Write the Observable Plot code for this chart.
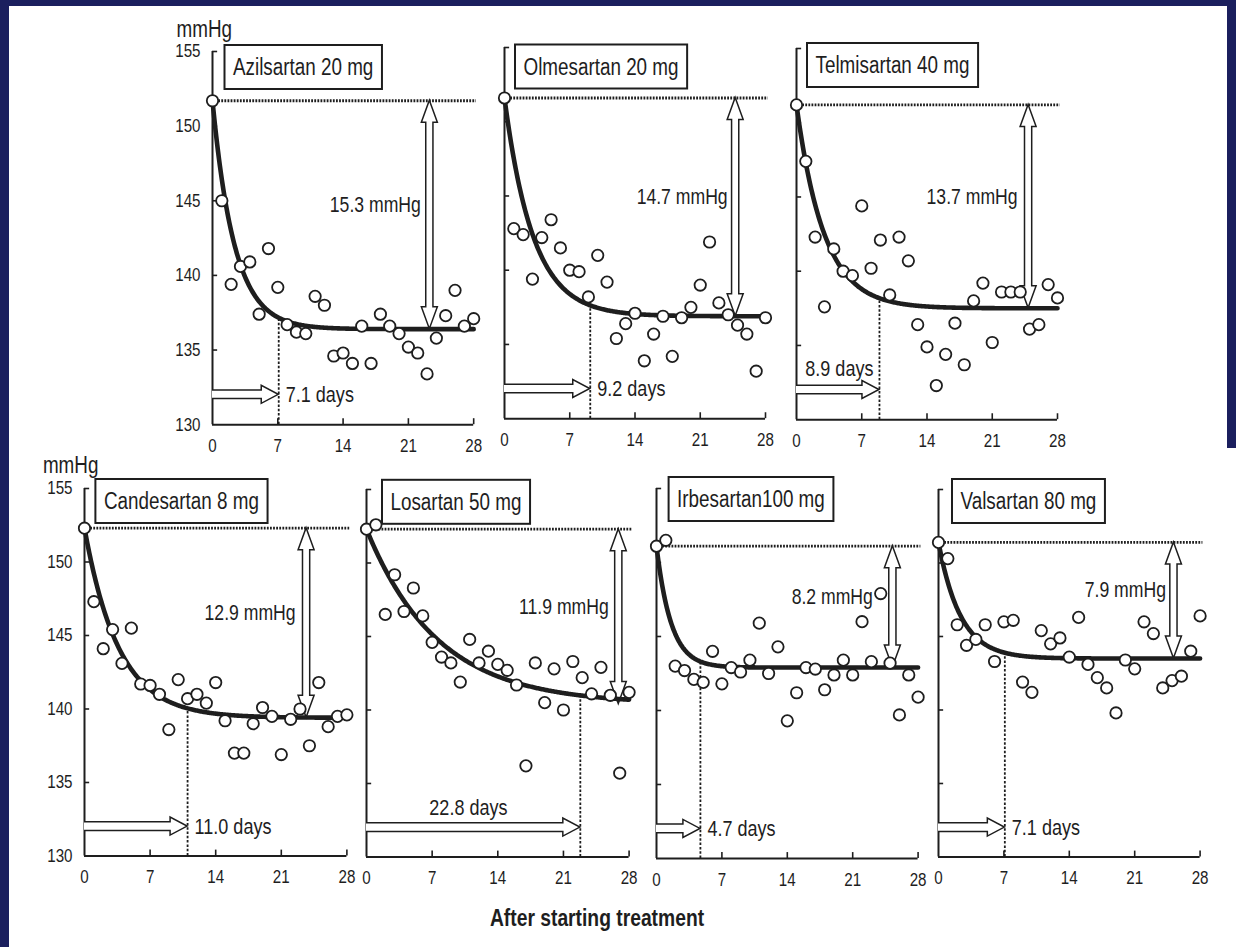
<!DOCTYPE html>
<html>
<head>
<meta charset="utf-8">
<script src="https://cdn.jsdelivr.net/npm/d3@7"></script>
<script src="https://cdn.jsdelivr.net/npm/@observablehq/plot@0.6"></script>
<style>
  html, body { margin: 0; padding: 0; background: #ffffff; }
  #figure { position: relative; width: 1236px; height: 947px; background: #ffffff; overflow: hidden; }
  .band { position: absolute; background: #1b1f5e; }
  #xtitle { position: absolute; white-space: nowrap; color: #1e1e1e; }
</style>
</head>
<body>
<div id="figure">
  <div class="band" style="left:0;top:0;width:1236px;height:6px"></div>
  <div class="band" style="left:0;top:0;width:9px;height:947px"></div>
  <div class="band" style="left:1227px;top:0;width:9px;height:448px"></div>
  <div id="xtitle">After starting treatment</div>
</div>
<script>
// Office systolic blood pressure (mmHg) by day after starting each ARB
const drugs = ["Azilsartan 20 mg", "Olmesartan 20 mg", "Telmisartan 40 mg",
               "Candesartan 8 mg", "Losartan 50 mg", "Irbesartan100 mg", "Valsartan 80 mg"];
const days = [0, 1, 2, 3, 4, 5, 6, 7, 8, 9, 10, 11, 12, 13, 14, 15, 16, 17, 18, 19, 20,
              21, 22, 23, 24, 25, 26, 27, 28];

const azilsartan  = [151.7, 145.0, 139.4, 140.6, 140.9, 137.4, 141.8, 139.2, 136.7, 136.2, 136.1, 138.6, 138.0, 134.6, 134.8,
                     134.1, 136.6, 134.1, 137.4, 136.6, 136.1, 135.2, 134.8, 133.4, 135.8, 137.3, 139.0, 136.6, 137.1];
const olmesartan  = [151.6, 142.8, 142.4, 139.4, 142.2, 143.4, 141.5, 140.0, 139.9, 138.2, 141.0, 139.2, 135.4, 136.4, 137.1,
                     133.9, 135.7, 136.9, 134.2, 136.8, 137.5, 139.0, 141.9, 137.8, 137.0, 136.3, 135.7, 133.2, 136.8];
const telmisartan = [151.2, 147.4, 142.3, 137.6, 141.5, 140.0, 139.7, 144.4, 140.2, 142.1, 138.4, 142.3, 140.7, 136.4, 134.9,
                     132.3, 134.4, 136.5, 133.7, 138.0, 139.2, 135.2, 138.6, 138.6, 138.6, 136.1, 136.4, 139.1, 138.2];
const candesartan = [152.3, 147.3, 144.1, 145.4, 143.1, 145.5, 141.7, 141.6, 141.0, 138.6, 142.0, 140.7, 141.0, 140.4, 141.8,
                     139.2, 137.0, 137.0, 139.0, 140.1, 139.5, 136.9, 139.3, 140.0, 137.5, 141.8, 138.8, 139.5, 139.6];
const losartan    = [152.3, 152.6, 146.5, 149.2, 146.7, 148.3, 146.4, 144.6, 143.6, 143.2, 141.9, 144.8, 143.2, 144.0, 143.1,
                     142.7, 141.7, 136.2, 143.2, 140.5, 142.8, 140.0, 143.3, 142.2, 141.1, 142.9, 141.0, 135.7, 141.2];
const irbesartan  = [151.1, 151.5, 143.0, 142.7, 142.1, 141.9, 144.0, 141.8, 142.9, 142.6, 143.4, 145.9, 142.5, 144.3, 139.3,
                     141.2, 142.9, 142.8, 141.4, 142.4, 143.4, 142.4, 146.0, 143.3, 147.9, 143.2, 139.7, 142.4, 140.9];
const valsartan   = [151.4, 150.3, 145.8, 144.4, 144.8, 145.8, 143.3, 146.0, 146.1, 141.9, 141.2, 145.4, 144.5, 144.9, 143.6,
                     146.3, 143.1, 142.2, 141.5, 139.8, 143.4, 142.8, 146.0, 145.2, 141.5, 142.0, 142.3, 144.0, 146.4];
const series = [azilsartan, olmesartan, telmisartan, candesartan, losartan, irbesartan, valsartan];

// Fitted exponential decay: baseline, maximal reduction (mmHg), days to reach the plateau
const baselines = [151.7, 151.6, 151.2, 152.3, 152.3, 151.1, 151.4];
const reductions = [15.3, 14.7, 13.7, 12.9, 11.9, 8.2, 7.9];
const plateauDays = [7.1, 9.2, 8.9, 11.0, 22.8, 4.7, 7.1];

const xTicks = [0, 7, 14, 21, 28];
const yTicks = [130, 135, 140, 145, 150, 155];

// Panel placement on the page (px) and annotation placement
const layout = [
  {left: 211.5, top: 50.8, w: 261.2, h: 373.2, yAxis: true, unitDx: -36, unitDy: -31, arrowDay: 23.3, dropDx: -9,  dayLabel: "right",       boxDx: 12.5, boxDy: -6},
  {left: 504.0, top: 46.8, w: 261.0, h: 371.2, arrowDay: 24.8, dropDx: -8,  dayLabel: "right",       boxDx: 11,   boxDy: -2.5},
  {left: 795.7, top: 48.3, w: 261.0, h: 371.2, arrowDay: 24.9, dropDx: -11, dayLabel: "aboveLeft",   boxDx: 11,   boxDy: -5},
  {left: 84.3,  top: 488.2, w: 262.4, h: 367.5, yAxis: true, unitDx: -41.6, unitDy: -32, arrowDay: 23.7, dropDx: -11, dayLabel: "right", boxDx: 11.4, boxDy: -9},
  {left: 365.7, top: 488.5, w: 262.6, h: 367.5, arrowDay: 26.9, dropDx: -10, dayLabel: "aboveCenter", boxDx: 16,   boxDy: -9.2},
  {left: 655.7, top: 488.3, w: 261.6, h: 370.0, arrowDay: 25.3, dropDx: -20, dayLabel: "right",       boxDx: 12.6, boxDy: -11},
  {left: 937.7, top: 489.2, w: 261.6, h: 367.5, arrowDay: 25.2, dropDx: -8,  dayLabel: "right",       boxDx: 14,   boxDy: -10}
];

const INK = "#1e1e1e";
const M = {top: 45, right: 22, bottom: 42, left: 50};
const SVGNS = "http://www.w3.org/2000/svg";

// Use a condensed face when installed; otherwise squeeze a regular face horizontally
const measureCtx = document.createElement("canvas").getContext("2d");
function fontAvailable(name) {
  const probe = "Azilsartan 20 mg mmHg 0123";
  measureCtx.font = "40px monospace";
  const a = measureCtx.measureText(probe).width;
  measureCtx.font = `40px "${name}", monospace`;
  return measureCtx.measureText(probe).width !== a;
}
const narrow = fontAvailable("Liberation Sans Narrow");
const FONT = narrow ? '"Liberation Sans Narrow", sans-serif' : '"Liberation Sans", Arial, sans-serif';
const SQUEEZE = narrow ? 1 : 0.82;

function condense(root) {
  if (SQUEEZE === 1) return;
  root.querySelectorAll("text").forEach(t => {
    const anchor = getComputedStyle(t).textAnchor;
    const tr = t.getAttribute("transform");
    if (tr) {
      const g = document.createElementNS(SVGNS, "g");
      g.setAttribute("transform", tr);
      t.parentNode.insertBefore(g, t);
      g.appendChild(t);
      t.removeAttribute("transform");
    }
    t.style.transformBox = "fill-box";
    t.style.transformOrigin = anchor === "middle" ? "50% 50%" : anchor === "end" ? "100% 50%" : "0% 50%";
    t.style.transform = `scaleX(${SQUEEZE})`;
  });
}

const xtitle = document.getElementById("xtitle");
xtitle.style.fontFamily = FONT;
xtitle.style.fontWeight = "bold";
xtitle.style.fontSize = "23.5px";
xtitle.style.left = "596.5px";
xtitle.style.top = "918px";
xtitle.style.transform = `translate(-50%, -50%) scaleX(${SQUEEZE})`;

// Hollow outline arrows: vertical double arrow for the reduction, horizontal arrow for the time to plateau
function hollowArrows(arrowDay, base, plateau, T, arrowLevel) {
  return (index, scales) => {
    const {x, y} = scales;
    const g = d3.create("svg:g")
      .attr("fill", "white").attr("stroke", INK).attr("stroke-width", 1.5).attr("stroke-linejoin", "miter");
    const ax = x(arrowDay), yt = y(base), yb = y(plateau);
    const s = 3.6, H = 8, L = 22;
    g.append("path").attr("d",
      `M${ax},${yt}L${ax + H},${yt + L}L${ax + s},${yt + L}L${ax + s},${yb - L}L${ax + H},${yb - L}` +
      `L${ax},${yb}L${ax - H},${yb - L}L${ax - s},${yb - L}L${ax - s},${yt + L}L${ax - H},${yt + L}Z`);
    const x0 = x(0), x1 = x(T), hy = y(arrowLevel);
    const hs = 4.3, hH = 9, hL = 17;
    g.append("path").attr("d",
      `M${x0},${hy - hs}L${x1 - hL},${hy - hs}L${x1 - hL},${hy - hH}L${x1},${hy}` +
      `L${x1 - hL},${hy + hH}L${x1 - hL},${hy + hs}L${x0},${hy + hs}`);
    return g.node();
  };
}

// Boxed drug name in the upper-left corner of a panel
function titleBox(label, dx, dy) {
  return (index, scales, values, dims) => {
    const fsz = 23;
    measureCtx.font = `${fsz}px ${FONT}`;
    const tw = measureCtx.measureText(label).width * SQUEEZE;
    const pad = 8.5, bh = 44;
    const bx = dims.marginLeft + dx, by = dims.marginTop + dy;
    const g = d3.create("svg:g");
    g.append("rect").attr("x", bx).attr("y", by).attr("width", tw + 2 * pad).attr("height", bh)
      .attr("fill", "white").attr("stroke", INK).attr("stroke-width", 2);
    g.append("text").attr("x", bx + pad).attr("y", by + bh / 2).attr("dy", "0.36em")
      .attr("text-anchor", "start").attr("font-size", fsz).attr("fill", INK).text(label);
    return g.node();
  };
}

const fig = document.getElementById("figure");
const arrowLevel = 132;
const fitGrid = d3.range(0, 28.0001, 0.1);

drugs.forEach((drug, i) => {
  const L = layout[i];
  const base = baselines[i], drop = reductions[i], T = plateauDays[i];
  const plateau = base - drop;
  const fit = t => base - drop * (1 - Math.exp(-3 * t / T));
  const curve = fitGrid.map(t => ({t, sbp: fit(t)}));
  const obs = days.map((d, j) => ({day: d, sbp: series[i][j]}));

  let dayText;
  const dayLabel = `${T.toFixed(1)} days`;
  const dayFont = 22;
  if (L.dayLabel === "right") {
    dayText = Plot.text([dayLabel], {x: T, y: arrowLevel, text: d => d, dx: 7, textAnchor: "start", fontSize: dayFont, fill: INK});
  } else if (L.dayLabel === "aboveLeft") {
    dayText = Plot.text([dayLabel], {x: T, y: arrowLevel, text: d => d, dx: -6, dy: -21, textAnchor: "end", fontSize: dayFont, fill: INK});
  } else {
    dayText = Plot.text([dayLabel], {x: T / 2, y: arrowLevel, text: d => d, dx: -5, dy: -20, textAnchor: "middle", fontSize: dayFont, fill: INK});
  }

  const marks = [
    Plot.ruleY([base], {x1: 0, x2: 28.3, stroke: INK, strokeWidth: 2.8, strokeDasharray: "1.8,1.3"}),
    Plot.ruleX([T], {y1: 130, y2: fit(T), stroke: INK, strokeWidth: 1.8, strokeDasharray: "2.5,1.8"}),
    Plot.ruleX([0], {y1: 130, y2: 155, stroke: INK, strokeWidth: 2}),
    Plot.ruleY([130], {x1: 0, x2: 28, stroke: INK, strokeWidth: 2}),
    Plot.ruleY(yTicks.slice(1), {x1: 0, x2: 0.55, stroke: INK, strokeWidth: 1.6}),
    Plot.ruleX(xTicks.slice(1), {y1: 130, y2: 130.4, stroke: INK, strokeWidth: 1.6}),
    hollowArrows(L.arrowDay, base, plateau, T, arrowLevel),
    Plot.line(curve, {x: "t", y: "sbp", stroke: INK, strokeWidth: 4.6}),
    Plot.dot(obs, {x: "day", y: "sbp", r: 5.7, fill: "white", stroke: INK, strokeWidth: 1.8}),
    Plot.text([`${drop.toFixed(1)} mmHg`], {x: L.arrowDay, y: (base + plateau) / 2, text: d => d,
      dx: L.dropDx, dy: -10, textAnchor: "end", fontSize: 21.5, fill: INK}),
    dayText,
    titleBox(drug, L.boxDx, L.boxDy)
  ];
  if (L.yAxis) {
    marks.push(Plot.text(["mmHg"], {frameAnchor: "top-left", text: d => d, dx: L.unitDx, dy: L.unitDy,
      textAnchor: "start", lineAnchor: "top", fontSize: 23, fill: INK}));
  }

  const svg = Plot.plot({
    width: M.left + L.w + M.right,
    height: M.top + L.h + M.bottom,
    marginTop: M.top, marginRight: M.right, marginBottom: M.bottom, marginLeft: M.left,
    style: {background: "transparent", overflow: "visible", fontFamily: FONT, fontSize: "18.5px", color: INK},
    x: {domain: [0, 28], ticks: xTicks, tickSize: 0, tickPadding: 14, label: null},
    y: L.yAxis
      ? {domain: [130, 155], ticks: yTicks, tickSize: 0, tickPadding: 12, label: null}
      : {domain: [130, 155], axis: null},
    marks
  });
  svg.style.position = "absolute";
  svg.style.left = (L.left - M.left) + "px";
  svg.style.top = (L.top - M.top) + "px";
  svg.style.maxWidth = "none";
  fig.appendChild(svg);
  condense(svg);
});
</script>
</body>
</html>
